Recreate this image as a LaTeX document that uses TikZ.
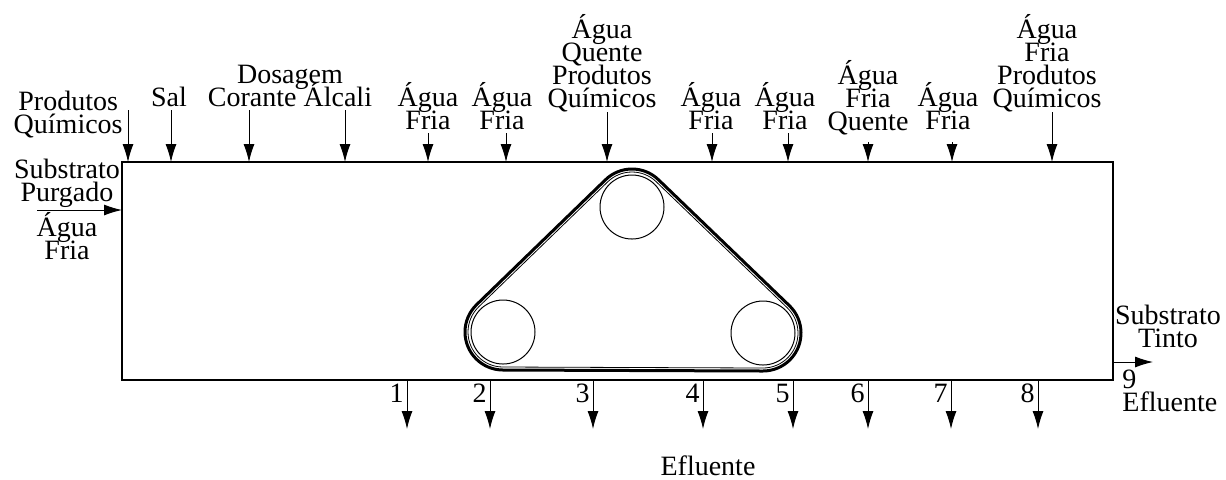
\documentclass[tikz,border=0pt]{standalone}
\usepackage{fontspec}
\setmainfont{Liberation Serif}
\usetikzlibrary{arrows.meta,calc}
\newcommand\lblfont{\fontsize{14}{11.5}\selectfont\lineskiplimit=-100pt\relax}

\begin{document}
\begin{tikzpicture}[
  x=0.5pt, y=-0.5pt,
  tank/.style={draw, line width=0.8pt, inner sep=0pt, outer sep=0pt, minimum width=495.5pt, minimum height=109pt},
  pulley/.style={draw, circle, line width=0.5pt, inner sep=0pt, minimum size=32pt},
  belt/.style={line width=1.5pt, line join=round},
  feed/.style={-{Latex[length=9pt,width=5.5pt]}, line width=0.5pt},
  lbl/.style={font=\lblfont, align=center, inner sep=0pt}
]
\useasboundingbox (0,0) rectangle (1226,479);
\node[tank] (tank) at (617.5,271) {};

\node[pulley] (pa) at (503,332) {};
\node[pulley] (pb) at (632,207) {};
\node[pulley] (pc) at (763,333) {};
\draw[belt] ($(pa)+(134.09:19pt)$) -- ($(pb)+(134.09:19pt)$) arc[start angle=134.09, end angle=46.12, radius=19pt]
  -- ($(pc)+(46.12:19pt)$) arc[start angle=46.12, end angle=-90.22, radius=19pt]
  -- ($(pa)+(269.78:19pt)$) arc[start angle=269.78, end angle=134.09, radius=19pt] -- cycle;
\draw[line width=0.4pt] ($(pa)+(134.09:17.5pt)$) -- ($(pb)+(134.09:17.5pt)$) arc[start angle=134.09, end angle=46.12, radius=17.5pt]
  -- ($(pc)+(46.12:17.5pt)$) arc[start angle=46.12, end angle=-90.22, radius=17.5pt]
  -- ($(pa)+(269.78:17.5pt)$) arc[start angle=269.78, end angle=134.09, radius=17.5pt] -- cycle;

\node[lbl, anchor=south east] (prod) at (123,138) {Produtos\\Químicos};
\node[lbl, anchor=south] (sal) at (169,107) {Sal};
\node[lbl, anchor=south] (dos) at (290,107) {Dosagem\\Corante Álcali};
\node[lbl, anchor=south] (af1) at (428,130) {Água\\Fria};
\node[lbl, anchor=south] (af2) at (502,130) {Água\\Fria};
\node[lbl, anchor=south] (aqp) at (602,112) {Água\\Quente\\Produtos\\Químicos};
\node[lbl, anchor=south] (af3) at (711,130) {Água\\Fria};
\node[lbl, anchor=south] (af4) at (785,130) {Água\\Fria};
\node[lbl, anchor=south] (afq) at (868,135) {Água\\Fria\\Quente};
\node[lbl, anchor=south] (af5) at (948,130) {Água\\Fria};
\node[lbl, anchor=south] (afp) at (1047,112) {Água\\Fria\\Produtos\\Químicos};

\coordinate (f1) at (128,110);
\coordinate (f2) at (171,110);
\coordinate (f3) at (249,110);
\coordinate (f4) at (345,110);
\coordinate (f5) at (428,133);
\coordinate (f6) at (506,133);
\coordinate (f7) at (607,112);
\coordinate (f8) at (712,133);
\coordinate (f9) at (788,133);
\coordinate (f10) at (868,142);
\coordinate (f11) at (952,142);
\coordinate (f12) at (1052,112);
\draw[feed] (f1) -- (f1 |- tank.north);
\draw[feed] (f2) -- (f2 |- tank.north);
\draw[feed] (f3) -- (f3 |- tank.north);
\draw[feed] (f4) -- (f4 |- tank.north);
\draw[feed] (f5) -- (f5 |- tank.north);
\draw[feed] (f6) -- (f6 |- tank.north);
\draw[feed] (f7) -- (f7 |- tank.north);
\draw[feed] (f8) -- (f8 |- tank.north);
\draw[feed] (f9) -- (f9 |- tank.north);
\draw[feed] (f10) -- (f10 |- tank.north);
\draw[feed] (f11) -- (f11 |- tank.north);
\draw[feed] (f12) -- (f12 |- tank.north);

\node[lbl, anchor=south] (sp) at (67,208) {Substrato\\Purgado};
\node[lbl, anchor=south] (af0) at (67,260) {Água\\Fria};
\coordinate (fin) at (37,210);
\draw[feed] (fin) -- (fin -| tank.west);

\node[lbl, anchor=south] (st) at (1168,348) {Substrato\\Tinto};
\coordinate (fout) at (1153,362);
\draw[feed] (fout -| tank.east) -- (fout);
\node[lbl, anchor=south west, align=left] (e9) at (1122,412) {9\\Efluente};

\coordinate (d1) at (407,429);
\coordinate (d2) at (490,429);
\coordinate (d3) at (593,429);
\coordinate (d4) at (703,429);
\coordinate (d5) at (793,429);
\coordinate (d6) at (868,429);
\coordinate (d7) at (951,429);
\coordinate (d8) at (1038,429);
\draw[feed] (tank.south -| d1) -- (d1);
\draw[feed] (tank.south -| d2) -- (d2);
\draw[feed] (tank.south -| d3) -- (d3);
\draw[feed] (tank.south -| d4) -- (d4);
\draw[feed] (tank.south -| d5) -- (d5);
\draw[feed] (tank.south -| d6) -- (d6);
\draw[feed] (tank.south -| d7) -- (d7);
\draw[feed] (tank.south -| d8) -- (d8);
\node[lbl, anchor=south east] (n1) at (404,403) {1};
\node[lbl, anchor=south east] (n2) at (487,403) {2};
\node[lbl, anchor=south east] (n3) at (590,403) {3};
\node[lbl, anchor=south east] (n4) at (700,403) {4};
\node[lbl, anchor=south east] (n5) at (790,403) {5};
\node[lbl, anchor=south east] (n6) at (865,403) {6};
\node[lbl, anchor=south east] (n7) at (948,403) {7};
\node[lbl, anchor=south east] (n8) at (1035,403) {8};

\node[lbl, anchor=south] (ef) at (708,476) {Efluente};
\end{tikzpicture}
\end{document}
